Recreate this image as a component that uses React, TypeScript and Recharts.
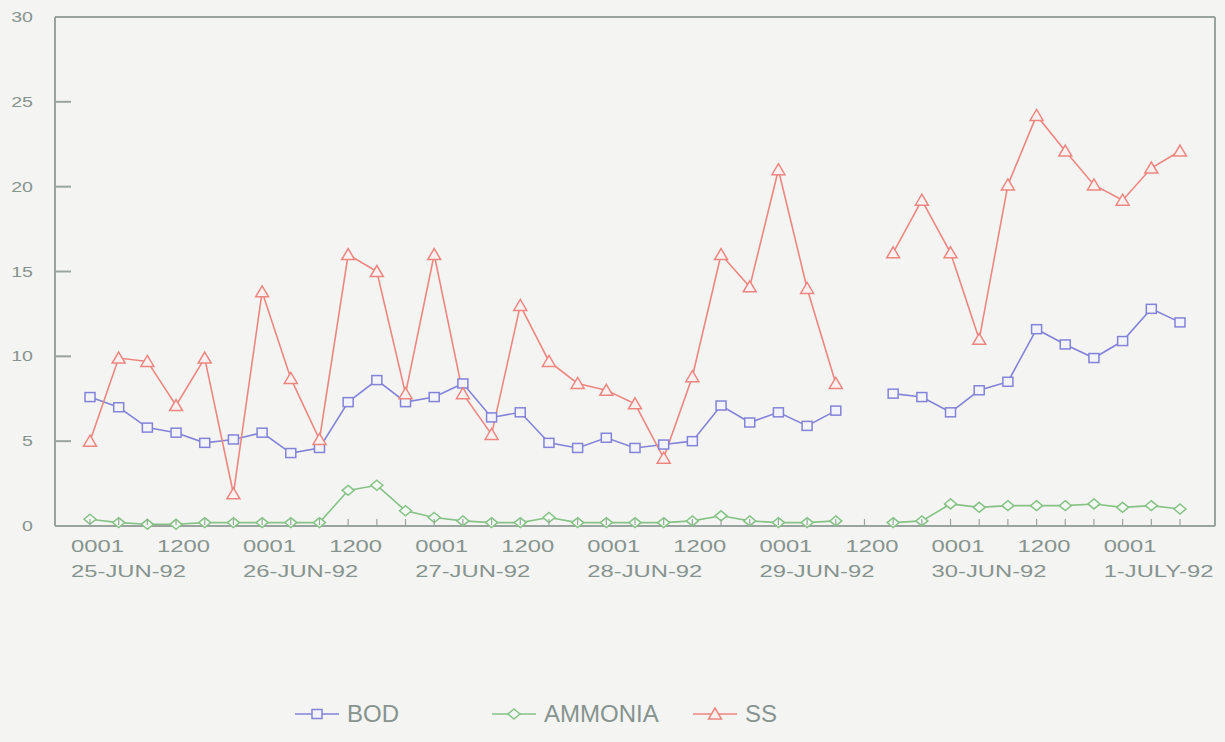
import { LineChart, Line, XAxis, YAxis, Legend, CartesianGrid } from 'recharts';

// sampling slots: every 4 hours from 25-JUN-92 0001
const dates = ['25-JUN-92', '26-JUN-92', '27-JUN-92', '28-JUN-92', '29-JUN-92', '30-JUN-92', '1-JULY-92'];
const hours = ['0001', '0400', '0800', '1200', '1600', '2000'];
const slotCount = 39;
const valueTicks = [0, 5, 10, 15, 20, 25, 30];
const seriesOrder = ['BOD', 'AMMONIA', 'SS'];

const bod = [7.6, 7.0, 5.8, 5.5, 4.9, 5.1, 5.5, 4.3, 4.6, 7.3, 8.6, 7.3, 7.6, 8.4, 6.4, 6.7, 4.9, 4.6, 5.2, 4.6, 4.8, 5.0, 7.1, 6.1, 6.7, 5.9, 6.8, null, 7.8, 7.6, 6.7, 8.0, 8.5, 11.6, 10.7, 9.9, 10.9, 12.8, 12.0];
const ammonia = [0.4, 0.2, 0.1, 0.1, 0.2, 0.2, 0.2, 0.2, 0.2, 2.1, 2.4, 0.9, 0.5, 0.3, 0.2, 0.2, 0.5, 0.2, 0.2, 0.2, 0.2, 0.3, 0.6, 0.3, 0.2, 0.2, 0.3, null, 0.2, 0.3, 1.3, 1.1, 1.2, 1.2, 1.2, 1.3, 1.1, 1.2, 1.0];
const ss = [5.0, 9.9, 9.7, 7.1, 9.9, 1.9, 13.8, 8.7, 5.1, 16.0, 15.0, 7.8, 16.0, 7.8, 5.4, 13.0, 9.7, 8.4, 8.0, 7.2, 4.0, 8.8, 16.0, 14.1, 21.0, 14.0, 8.4, null, 16.1, 19.2, 16.1, 11.0, 20.1, 24.2, 22.1, 20.1, 19.2, 21.1, 22.1];

const rows = Array.from({ length: slotCount }, (_, i) => {
  const date = dates[Math.floor(i / hours.length)];
  const hour = hours[i % hours.length];
  return { slot: `${date} ${hour}`, date, hour, BOD: bod[i], AMMONIA: ammonia[i], SS: ss[i] };
});

const BOD_C = '#8383d8';
const AMM_C = '#86c286';
const SS_C = '#ee8680';
const AXIS_C = '#9aa49f';
const TEXT_C = '#87938e';
const FONT = '"Liberation Sans", Arial, sans-serif';

function TimeTick({ x, y, payload }: any) {
  const row = rows.find((r) => r.slot === payload.value);
  if (!row) return null;
  const showTime = row.hour === '0001' || row.hour === '1200';
  return (
    <g>
      <line x1={x} y1={y - 1} x2={x} y2={y - 7} stroke={AXIS_C} strokeWidth={1.2} />
      {showTime && (
        <g transform={`translate(${x - 19},${y + 26})`}>
          <text transform="scale(1.4,1)" fontSize={17} fontFamily={FONT} fill={TEXT_C}>
            {row.hour}
          </text>
        </g>
      )}
      {row.hour === '0001' && (
        <g transform={`translate(${x - 19},${y + 51})`}>
          <text transform="scale(1.4,1)" fontSize={17} fontFamily={FONT} fill={TEXT_C}>
            {row.date}
          </text>
        </g>
      )}
    </g>
  );
}

function ValueTick({ x, y, payload }: any) {
  return (
    <g>
      <line x1={x} y1={y} x2={x + 16} y2={y} stroke={AXIS_C} strokeWidth={2} />
      <g transform={`translate(${x - 22},${y + 5})`}>
        <text transform="scale(1.4,1)" textAnchor="end" fontSize={14} fontFamily={FONT} fill={TEXT_C}>
          {payload.value}
        </text>
      </g>
    </g>
  );
}

function marker(kind: string, cx: number, cy: number, color: string) {
  if (kind === 'square') {
    return <rect x={cx - 5} y={cy - 4.5} width={10} height={9} fill="#f3f3fb" stroke={color} strokeWidth={1.5} />;
  }
  if (kind === 'diamond') {
    return (
      <polygon
        points={`${cx},${cy - 5} ${cx + 6},${cy} ${cx},${cy + 5} ${cx - 6},${cy}`}
        fill="#f2f8f2"
        stroke={color}
        strokeWidth={1.5}
      />
    );
  }
  return (
    <polygon
      points={`${cx},${cy - 6} ${cx + 6.5},${cy + 5} ${cx - 6.5},${cy + 5}`}
      fill="#fbf1f0"
      stroke={color}
      strokeWidth={1.5}
    />
  );
}

const makeDot = (kind: string, color: string) => (p: any) => {
  const { cx, cy, index, value } = p;
  if (cx == null || cy == null || value == null) return <g key={`${kind}-${index}`} />;
  return <g key={`${kind}-${index}`}>{marker(kind, cx, cy, color)}</g>;
};

const legendShapes: Record<string, string> = { BOD: 'square', AMMONIA: 'diamond', SS: 'triangle' };
const legendWidths: Record<string, number> = { BOD: 197, AMMONIA: 201, SS: 120 };

function KeyRow({ payload }: any) {
  const items = [...(payload || [])].sort((a: any, b: any) => seriesOrder.indexOf(a.value) - seriesOrder.indexOf(b.value));
  return (
    <div style={{ display: 'flex', alignItems: 'center' }}>
      {items.map((item: any) => (
        <div key={item.value} style={{ display: 'flex', alignItems: 'center', width: legendWidths[item.value] }}>
          <svg width={44} height={24}>
            <line x1={0} y1={12} x2={44} y2={12} stroke={item.color} strokeWidth={1.5} />
            {marker(legendShapes[item.value], 22, 12, item.color)}
          </svg>
          <span style={{ marginLeft: 8, fontFamily: FONT, fontSize: 24, color: TEXT_C }}>{item.value}</span>
        </div>
      ))}
    </div>
  );
}

export default function App() {
  return (
    <div style={{ position: 'absolute', left: 0, top: 0, width: 1225, height: 742, background: '#f4f5f3' }}>
      <LineChart width={1225} height={742} data={rows} margin={{ top: 17, right: 10, left: 0, bottom: 146 }}>
        <CartesianGrid
          stroke={AXIS_C}
          strokeWidth={2}
          horizontalCoordinatesGenerator={({ offset }: any) => [offset.top]}
          verticalCoordinatesGenerator={({ offset }: any) => [offset.left + offset.width]}
        />
        <XAxis
          dataKey="slot"
          interval={0}
          height={70}
          padding={{ left: 35, right: 35 }}
          tick={<TimeTick />}
          tickLine={false}
          tickSize={0}
          tickMargin={0}
          axisLine={{ stroke: AXIS_C, strokeWidth: 2 }}
        />
        <YAxis
          width={55}
          domain={[0, 30]}
          ticks={valueTicks}
          interval={0}
          tick={<ValueTick />}
          tickLine={false}
          tickSize={0}
          tickMargin={0}
          axisLine={{ stroke: AXIS_C, strokeWidth: 2 }}
        />
        <Line
          dataKey="BOD"
          stroke={BOD_C}
          strokeWidth={1.6}
          dot={makeDot('square', BOD_C)}
          activeDot={false}
          isAnimationActive={false}
        />
        <Line
          dataKey="AMMONIA"
          stroke={AMM_C}
          strokeWidth={1.6}
          dot={makeDot('diamond', AMM_C)}
          activeDot={false}
          isAnimationActive={false}
        />
        <Line
          dataKey="SS"
          stroke={SS_C}
          strokeWidth={1.6}
          dot={makeDot('triangle', SS_C)}
          activeDot={false}
          isAnimationActive={false}
        />
        <Legend
          verticalAlign="middle"
          align="center"
          layout="horizontal"
          content={<KeyRow />}
          wrapperStyle={{ top: 700, left: 295, width: 600, height: 26 }}
        />
      </LineChart>
    </div>
  );
}
